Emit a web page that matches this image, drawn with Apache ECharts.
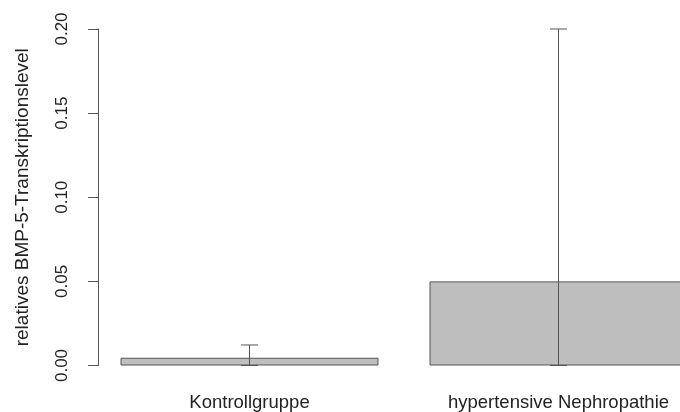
<!DOCTYPE html>
<html>
<head>
<meta charset="utf-8">
<script src="https://cdn.jsdelivr.net/npm/echarts@6/dist/echarts.min.js"></script>
<style>html,body{margin:0;padding:0;background:#fff}#c{width:680px;height:412px}</style>
</head>
<body>
<div id="c"></div>
<script>
const categories = ['Kontrollgruppe', 'hypertensive Nephropathie'];
const means = [0.0046, 0.05];
const errLower = [0, 0];
const errUpper = [0.0122, 0.2];
const yTicks = [0, 0.05, 0.10, 0.15, 0.20];

const chart = echarts.init(document.getElementById('c'), null, {renderer: 'canvas'});
const font = 'Liberation Sans, Arial, sans-serif';
const errData = categories.map((c, i) => [i, errLower[i], errUpper[i]]);

chart.setOption({
  animation: false,
  backgroundColor: '#fff',
  grid: {left: 95, right: -33, top: 29, bottom: 46.5, outerBoundsMode: 'none', containLabel: false},
  xAxis: {
    type: 'category',
    data: categories,
    axisLine: {show: false},
    axisTick: {show: false},
    axisLabel: {color: '#222', fontFamily: font, fontSize: 18.5, margin: 28}
  },
  yAxis: {
    type: 'value',
    min: yTicks[0],
    max: yTicks[yTicks.length - 1],
    interval: 0.05,
    offset: -3,
    splitLine: {show: false},
    axisLine: {show: true, lineStyle: {color: '#555', width: 1}},
    axisTick: {show: true, length: 10, lineStyle: {color: '#555', width: 1}},
    axisLabel: {
      rotate: 90, color: '#222', fontFamily: font, fontSize: 17, margin: 27,
      formatter: v => v.toFixed(2)
    },
    name: 'relatives BMP-5-Transkriptionslevel',
    nameLocation: 'middle',
    nameRotate: 90,
    nameGap: 66,
    nameTextStyle: {color: '#222', fontFamily: font, fontSize: 19}
  },
  series: [
    {
      type: 'bar',
      data: means,
      barWidth: 258,
      itemStyle: {color: '#bebebe', borderColor: '#555', borderWidth: 1}
    },
    {
      type: 'custom',
      data: errData,
      z: 10,
      renderItem: function (params, api) {
        const x = api.value(0);
        const lo = api.coord([x, api.value(1)]);
        const hi = api.coord([x, api.value(2)]);
        const cw = 8.5;
        const st = {stroke: '#555', lineWidth: 1};
        return {
          type: 'group',
          children: [
            {type: 'line', shape: {x1: lo[0], y1: lo[1], x2: hi[0], y2: hi[1]}, style: st},
            {type: 'line', shape: {x1: hi[0] - cw, y1: hi[1], x2: hi[0] + cw, y2: hi[1]}, style: st},
            {type: 'line', shape: {x1: lo[0] - cw, y1: lo[1], x2: lo[0] + cw, y2: lo[1]}, style: st}
          ]
        };
      }
    }
  ]
});
</script>
</body>
</html>
